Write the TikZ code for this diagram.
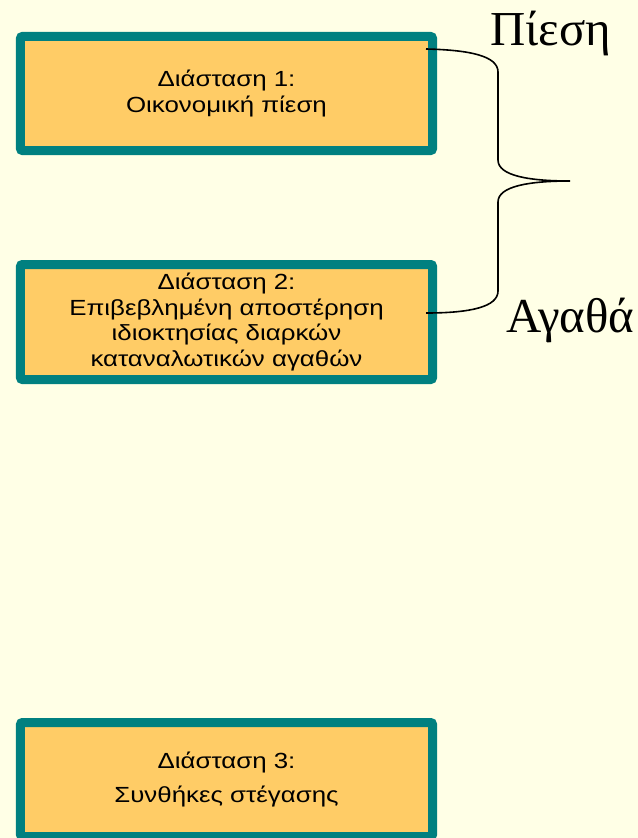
\documentclass[tikz,border=0pt]{standalone}
\usepackage{fontspec}
\setmainfont{Liberation Sans}[FakeStretch=1.18]
\newfontfamily\grserif{Liberation Serif}
\usetikzlibrary{arrows,positioning}
\definecolor{bgyellow}{RGB}{255,255,230}
\definecolor{boxfill}{RGB}{255,204,102}
\definecolor{boxedge}{RGB}{0,128,128}

\begin{document}
\begin{tikzpicture}[x=1bp, y=-1bp]
\fill[bgyellow] (0,0) rectangle (638,838); %%
\useasboundingbox (0,0) rectangle (638,838); %%
\clip (0,0) rectangle (638,838); %%
\begin{scope}[shape=rectangle,align=center]
\tikzstyle{every node}=[draw=boxedge,fill=boxfill,line width=9bp,rounded corners=2bp,outer sep=0pt,minimum width=412bp,inner sep=0pt] %%
\node[minimum height=114bp,font=\fontsize{22}{27}\selectfont] (d1) at (226.5,93.5) {Διάσταση 1:\\Οικονομική πίεση}; %%
\node[minimum height=115bp,font=\fontsize{22}{25.5}\selectfont] (d2) at (226.5,322) {Διάσταση 2:\\Επιβεβλημένη αποστέρηση\\ιδιοκτησίας διαρκών\\καταναλωτικών αγαθών}; %%
\node[minimum height=114bp,font=\fontsize{22}{35}\selectfont] (d3) at (226.5,779.5) {Διάσταση 3:\\Συνθήκες στέγασης}; %%
\end{scope}
%\draw[step=10,color=gray] (0,0) grid (638,838);%%
\coordinate (tip) at (570,181); %%
\draw[line width=1.6bp] ([xshift=-6.5bp,yshift=44.5bp]d1.east) .. controls (470,50) and (498,56) .. (498,72) %%
  -- (498,160) .. controls (498,176) and (530,181) .. (tip) %%
  .. controls (530,181) and (498,186) .. (498,202) -- (498,291) %%
  .. controls (498,307) and (470,313) .. ([xshift=-6.5bp,yshift=9bp]d2.east); %%
\node[anchor=base west,font=\grserif\fontsize{49}{49}\selectfont,inner sep=0pt] (piesi) at (490,45) {Πίεση}; %%
\node[anchor=base west,font=\grserif\fontsize{49}{49}\selectfont,inner sep=0pt] (agatha) at (506,332) {Αγαθά}; %%
\end{tikzpicture}
\end{document}
